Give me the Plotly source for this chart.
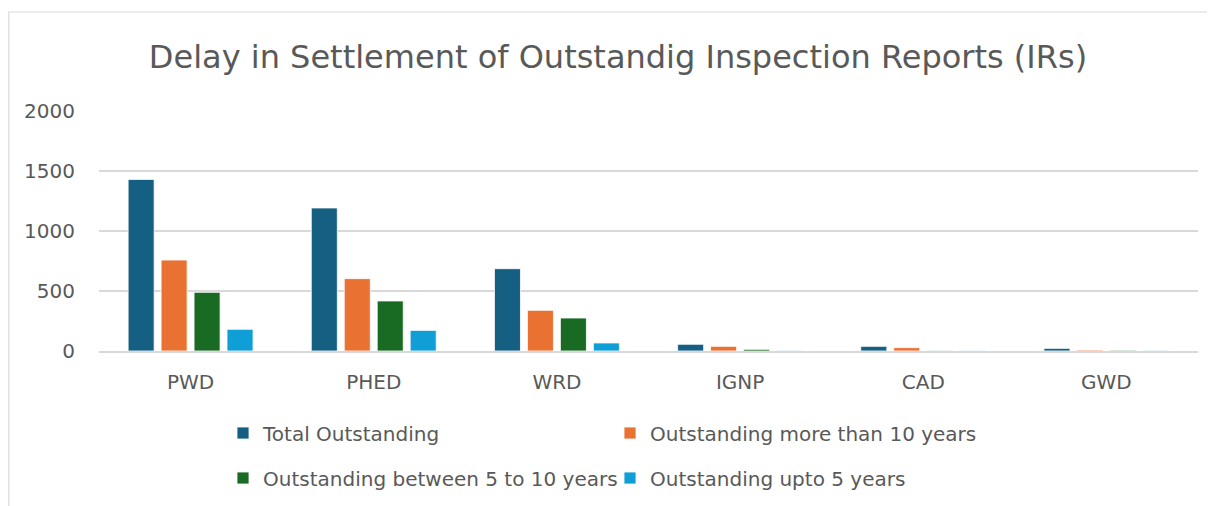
import plotly.graph_objects as go

categories = ["PWD", "PHED", "WRD", "IGNP", "CAD", "GWD"]
total_outstanding = [1430, 1192, 686, 56, 39, 22]
more_than_10 = [758, 603, 339, 39, 28, 8]
between_5_10 = [489, 417, 275, 14, 2, 6]
upto_5 = [181, 172, 67, 3, 2, 3]

series_names = [
    "Total Outstanding",
    "Outstanding more than 10 years",
    "Outstanding between 5 to 10 years",
    "Outstanding upto 5 years",
]
series_values = [total_outstanding, more_than_10, between_5_10, upto_5]
colors = ["#156082", "#E97132", "#196B24", "#0F9ED5"]
legend_ids = ["legend", "legend", "legend2", "legend2"]

# page offset (default body margin of the html page)
OFF = 8
W, H = 1215 - OFF, 506 - OFF
# plot area in page pixels: x 99..1198, y 111..351
L = 99 - OFF
R = (1215 - OFF) - (1198 - OFF)
T = 111 - OFF
B = (506 - OFF) - (351 - OFF)
pw, ph = W - L - R, H - T - B

FONT = "DejaVu Sans"
GREY = "#595959"

fig = go.Figure()
for name, vals, col, lg in zip(series_names, series_values, colors, legend_ids):
    fig.add_trace(go.Bar(
        x=categories, y=vals, name=name, legend=lg,
        marker=dict(color=col, line=dict(color="white", width=0.8)),
    ))

def px_x(px):  # page pixel -> paper
    return (px - OFF - L) / pw

def px_y(py):
    return (H - B - (py - OFF)) / ph

legend_common = dict(
    orientation="h", xref="paper", yref="paper",
    xanchor="left", yanchor="middle",
    font=dict(family=FONT, size=20, color=GREY),
    entrywidth=342, entrywidthmode="pixels",
    itemwidth=30, bgcolor="rgba(0,0,0,0)", traceorder="normal",
)

fig.update_layout(
    width=W, height=H,
    margin=dict(l=L, r=R, t=T, b=B, pad=0, autoexpand=False),
    paper_bgcolor="white", plot_bgcolor="white",
    font=dict(family=FONT, color=GREY),
    title=dict(
        text="Delay in Settlement of Outstandig Inspection Reports (IRs)",
        font=dict(family=FONT, size=32, color=GREY),
        x=(618 - OFF) / W, xanchor="center", xref="container",
        y=1 - (57 - OFF) / H, yanchor="middle", yref="container",
    ),
    barmode="group", bargap=0.28, bargroupgap=0.21,
    showlegend=True,
    legend=dict(x=px_x(223), y=px_y(433), **legend_common),
    legend2=dict(x=px_x(223), y=px_y(478), **legend_common),
    xaxis=dict(
        showgrid=False, showline=True, linecolor="#D9D9D9", linewidth=1.5,
        ticks="", tickfont=dict(family=FONT, size=20, color=GREY),
        ticklabelstandoff=12,
    ),
    yaxis=dict(
        range=[0, 2000], tickvals=[0, 500, 1000, 1500, 2000],
        showgrid=True, gridcolor="#D9D9D9", gridwidth=1.5,
        zeroline=False, showline=False, ticks="",
        tickfont=dict(family=FONT, size=20, color=GREY),
        ticklabelstandoff=23,
    ),
    shapes=[dict(
        type="rect", xref="paper", yref="paper",
        x0=px_x(8.8), x1=px_x(1213.5), y0=px_y(540), y1=px_y(12),
        line=dict(color="#D9D9D9", width=1.2), fillcolor="rgba(0,0,0,0)",
        layer="below",
    )],
)

fig.write_html("out.html")
